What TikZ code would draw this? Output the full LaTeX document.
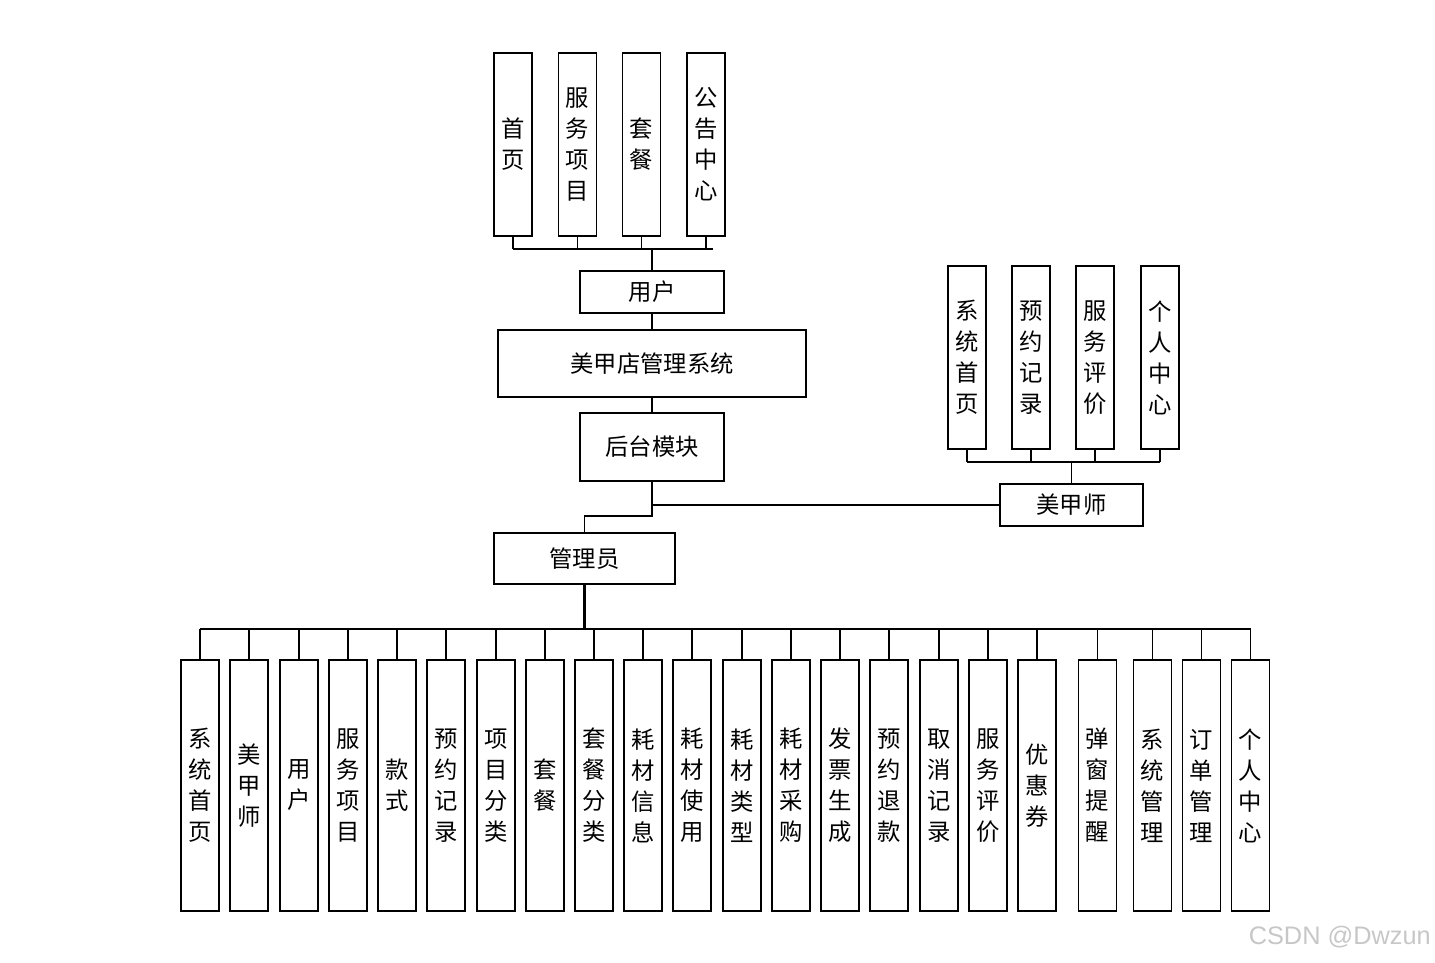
\documentclass[tikz,border=0pt]{standalone}
\usepackage{fontspec}
\newfontfamily\cjk{Noto Sans CJK SC}
\newfontfamily\wm{Liberation Sans}
\begin{document}
\begin{tikzpicture}[x=0.75pt,y=-0.75pt,
  box/.style={draw,line width=1.3pt,fill=white,inner sep=0pt,font=\cjk\fontsize{17.5}{23.25}\selectfont,align=center},
  tbox/.style={box,minimum width=28.5pt,minimum height=137.25pt},
  bbox/.style={box,minimum width=28.5pt,minimum height=188.25pt},
  conn/.style={line width=1.15pt}]
\useasboundingbox (0,0) rectangle (1435,963);
% top group
\node[tbox] (t1) at (513,144.5) {首\\页};
\node[tbox] (t2) at (577.5,144.5) {服\\务\\项\\目};
\node[tbox] (t3) at (641.5,144.5) {套\\餐};
\node[tbox] (t4) at (706,144.5) {公\\告\\中\\心};
\coordinate (ubus) at (652,249);
\coordinate (uend) at (713,249);
\node[box,minimum width=108pt,minimum height=31.5pt] (user) at (652,292) {用户};
\node[box,minimum width=231pt,minimum height=50.25pt] (sys) at (652,363.5) {美甲店管理系统};
\node[box,minimum width=108pt,minimum height=51pt] (back) at (652,447) {后台模块};
\node[box,minimum width=135.75pt,minimum height=38.25pt] (admin) at (584.5,558.5) {管理员};
\node[box,minimum width=107.25pt,minimum height=31.5pt] (mjs) at (1071.5,505) {美甲师};
% right group
\node[tbox] (r1) at (967,357.5) {系\\统\\首\\页};
\node[tbox] (r2) at (1031,357.5) {预\\约\\记\\录};
\node[tbox] (r3) at (1095,357.5) {服\\务\\评\\价};
\node[tbox] (r4) at (1160,357.5) {个\\人\\中\\心};
\coordinate (rbus) at (1071.5,462);
% bottom group
\foreach \n/\x/\t in {1/200/{系\\统\\首\\页},2/249/{美\\甲\\师},3/299/{用\\户},4/348/{服\\务\\项\\目},
  5/397/{款\\式},6/446/{预\\约\\记\\录},7/496/{项\\目\\分\\类},8/545/{套\\餐},
  9/594/{套\\餐\\分\\类},10/643/{耗\\材\\信\\息},11/692/{耗\\材\\使\\用},12/742/{耗\\材\\类\\型},
  13/791/{耗\\材\\采\\购},14/840/{发\\票\\生\\成},15/889/{预\\约\\退\\款},16/939/{取\\消\\记\\录},
  17/988/{服\\务\\评\\价},18/1037/{优\\惠\\券},19/1097.5/{弹\\窗\\提\\醒},20/1152.5/{系\\统\\管\\理},
  21/1201.5/{订\\单\\管\\理},22/1250.5/{个\\人\\中\\心}}
  {\node[bbox] (b\n) at (\x,785.5) {\t};}
\coordinate (abus) at (584.5,629);
% connectors top
\draw[conn] (t1.south |- ubus) -- (uend);
\foreach \i in {1,...,4} {\draw[conn] (t\i.south) -- (t\i.south |- ubus);}
\draw[conn] (ubus) -- (user.north);
\draw[conn] (user.south) -- (sys.north);
\draw[conn] (sys.south) -- (back.north);
\coordinate (j1) at (652,505);
\coordinate (j2) at (652,516);
\draw[conn] (back.south) -- (j1) -- (mjs.west);
\draw[conn] (j1) -- (j2) -| (admin.north);
% right connectors
\draw[conn] (r1.south |- rbus) -- (r4.south |- rbus);
\foreach \i in {1,...,4} {\draw[conn] (r\i.south) -- (r\i.south |- rbus);}
\draw[conn] (mjs.north) -- (rbus);
% bottom connectors
\draw[line width=1.7pt] (admin.south) -- (abus);
\draw[conn] (b1.north |- abus) -- (b22.north |- abus);
\foreach \i in {1,...,22} {\draw[conn] (b\i.north) -- (b\i.north |- abus);}
% watermark
\node[font=\wm\fontsize{19}{22}\selectfont,text=black!22,anchor=east,inner sep=0pt] (wmark) at (1431,937) {CSDN @Dwzun};
\end{tikzpicture}
\end{document}
